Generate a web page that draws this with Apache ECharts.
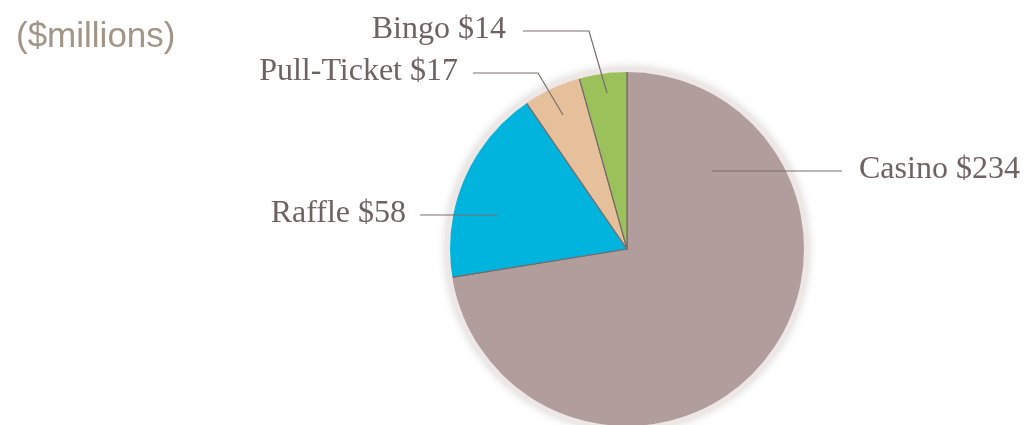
<!DOCTYPE html>
<html>
<head>
<meta charset="utf-8">
<script src="https://cdn.jsdelivr.net/npm/echarts@6/dist/echarts.min.js"></script>
<style>
  html, body { margin: 0; padding: 0; background: #fff; }
  #chart { width: 1026px; height: 425px; }
</style>
</head>
<body>
<div id="chart"></div>
<script>
// gaming revenue by type, $ millions
const categories = ["Casino", "Raffle", "Pull-Ticket", "Bingo"];
const values = [234, 58, 17, 14];
const colors = ["#b29d9d", "#00b4dd", "#e5c09a", "#9bc15b"];

// pie placement (px)
const CX = 627, CY = 249, R = 178;

// leader lines, as offsets from the pie centre: anchor, optional elbow, end, text x
const LEADERS = [
  { pts: [[85, -78], [215, -78]], tx: 232, align: "left" },
  { pts: [[-129, -34], [-207, -34]], tx: -221, align: "right" },
  { pts: [[-64, -134], [-89, -176], [-154, -176]], tx: -169, align: "right" },
  { pts: [[-20, -156], [-38, -218], [-104, -218]], tx: -121, align: "right" },
];

const data = categories.map((name, i) => ({ name, value: values[i] }));

const chart = echarts.init(document.getElementById("chart"), null, { renderer: "canvas" });

const rim = (z, inner, shadow) => ({
  type: "pie",
  z,
  center: [CX, CY],
  radius: [inner, R + 4],
  silent: true,
  label: { show: false },
  labelLine: { show: false },
  itemStyle: shadow
    ? { color: "#ede8e6", shadowBlur: 10, shadowColor: "rgba(0,0,0,0.16)" }
    : { color: "#ede8e6" },
  data: [{ value: 1 }],
});

chart.setOption({
  animation: false,
  backgroundColor: "#fff",
  title: {
    text: "($millions)",
    left: 11,
    top: 15,
    textStyle: {
      fontFamily: "Liberation Sans, Arial, sans-serif",
      fontSize: 35,
      fontWeight: "normal",
      color: "#a39586",
    },
  },
  series: [
    // shadowed disc behind the pie
    rim(1, 0, true),
    {
      // pie slices
      type: "pie",
      z: 2,
      center: [CX, CY],
      radius: R,
      startAngle: 90,
      clockwise: true,
      silent: true,
      label: { show: false },
      labelLine: { show: false },
      itemStyle: {
        color: (p) => colors[p.dataIndex],
        borderColor: "#766b6b",
        borderWidth: 1.2,
      },
      data,
    },
    // clean rim over the slice edges
    rim(3, R - 1, false),
    {
      // labels with leader lines
      type: "pie",
      z: 4,
      center: [CX, CY],
      radius: R,
      startAngle: 90,
      clockwise: true,
      silent: true,
      itemStyle: { color: "rgba(0,0,0,0)", borderWidth: 0 },
      label: {
        show: true,
        formatter: (p) => p.name + " $" + p.value,
        fontFamily: "Liberation Serif, Times New Roman, serif",
        fontSize: 32,
        color: "#6f6262",
      },
      labelLine: {
        show: true,
        lineStyle: { color: "#7a6e6e", width: 1.2 },
      },
      labelLayout: (p) => {
        const L = LEADERS[p.dataIndex];
        const pts = L.pts.map(([dx, dy]) => [CX + dx, CY + dy]);
        const ly = pts[pts.length - 1][1];
        return {
          x: CX + L.tx,
          y: ly - 1,
          align: L.align,
          verticalAlign: "middle",
          labelLinePoints: pts,
        };
      },
      data,
    },
  ],
});
</script>
</body>
</html>
